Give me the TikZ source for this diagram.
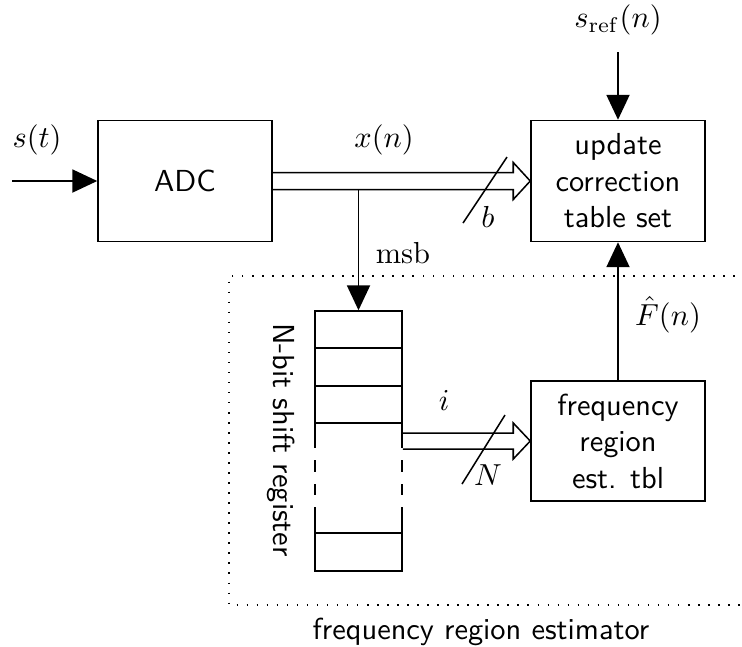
\documentclass[tikz,border=0pt]{standalone}
\usetikzlibrary{arrows.meta,calc}
\newdimen\pu \pu=0.329pt
\begin{document}
\begin{tikzpicture}[x=0.329pt,y=-0.329pt,line width=0.5pt,
  blk/.style={draw,inner sep=0pt,minimum width=174\pu,minimum height=121\pu,align=center,font=\sffamily},
  tip/.style={-{Triangle[length=8.2pt,width=7.6pt]}},
  lbl/.style={inner sep=0pt},
  frame/.style={dash pattern=on 0.5pt off 2.8pt}]
\useasboundingbox (0,0) rectangle (742,646);
% blocks
\node[blk] (adc) at (185,181) {ADC};
\node[blk] (upd) at (618,181) {update\\correction\\table set};
\node[blk,minimum height=120\pu] (freq) at (618,441) {frequency\\region\\est. tbl};
\node[inner sep=0pt,minimum width=87\pu,minimum height=260\pu] (reg) at (358.5,441) {};
% register drawing
\draw (315,311) rectangle (402,423);
\draw (315,348) -- (402,348) (315,386) -- (402,386);
\draw (315,533) rectangle (402,571);
\foreach \xx in {315,402}{
  \draw (\xx,423) -- (\xx,448) (\xx,460) -- (\xx,472) (\xx,484) -- (\xx,495) (\xx,507) -- (\xx,533);
}
% input
\coordinate (in) at (12,181);
\draw[tip] (in) -- (adc.west);
\node[lbl] (st) at (37,140) {$s(t)$};
% s_ref
\coordinate (sref) at (618,52);
\draw[tip] (sref) -- (upd.north);
\node[lbl] (sreflbl) at (618,20) {$s_{\mathrm{ref}}(n)$};
% x(n) bus
\draw ($(adc.east)+(0,-8.5)$) -- ($(upd.west)+(-17,-8.5)$) -- ($(upd.west)+(-17,-18.5)$) -- (upd.west)
  -- ($(upd.west)+(-17,18.5)$) -- ($(upd.west)+(-17,8.5)$) -- ($(adc.east)+(0,8.5)$);
\node[lbl] (xn) at (384,140) {$x(n)$};
\coordinate (bs1) at (463,223);
\coordinate (bs2) at (507,157);
\draw (bs1) -- (bs2);
\node[lbl] (blbl) at (488,217) {$b$};
% msb
\coordinate (tap) at (358.5,189.5);
\draw[tip] (tap) -- (reg.north);
\node[lbl] (msb) at (403,253) {$\mathrm{msb}$};
% N bus
\draw ($(reg.east)+(0,-8)$) -- ($(freq.west)+(-17,-8)$) -- ($(freq.west)+(-17,-18)$) -- (freq.west)
  -- ($(freq.west)+(-17,18)$) -- ($(freq.west)+(-17,8)$) -- ($(reg.east)+(0,8)$);
\node[lbl] (ilbl) at (444,400) {$i$};
\coordinate (ns1) at (462,484);
\coordinate (ns2) at (505,415);
\draw (ns1) -- (ns2);
\node[lbl] (nlbl) at (488,475) {$N$};
% F hat
\draw[tip] (freq.north) -- (upd.south);
\node[lbl] (flbl) at (668,315) {$\hat{F}(n)$};
% register label
\node[lbl,rotate=-90,font=\sffamily] (reglbl) at (281,440) {N-bit shift register};
% estimator frame
\draw[frame] (745,276) -- (229,276) -- (229,605) -- (745,605);
\node[lbl,font=\sffamily] (estlbl) at (481,632) {frequency region estimator};
\end{tikzpicture}
\end{document}
